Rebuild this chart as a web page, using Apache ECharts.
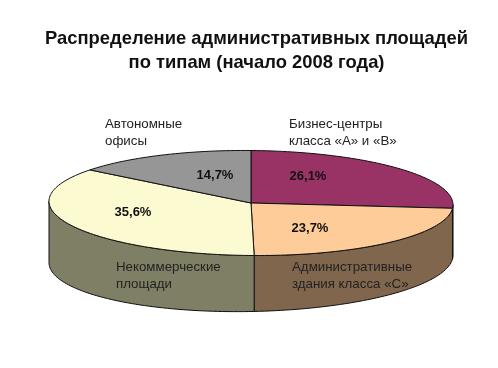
<!DOCTYPE html>
<html><head><meta charset="utf-8">
<style>html,body{margin:0;padding:0;background:#fff}#c{width:498px;height:368px}</style>
<script src="https://cdn.jsdelivr.net/npm/echarts@6/dist/echarts.min.js"></script>
</head><body><div id="c"></div>
<script>
const titleText = 'Распределение административных площадей\nпо типам (начало 2008 года)';
const categories = ['Бизнес-центры\nкласса «А» и «В»', 'Административные\nздания класса «С»', 'Некоммерческие\nплощади', 'Автономные\nофисы'];
const values = [26.1, 23.7, 35.6, 14.7];
const topColors = ['#993366', '#FDCC99', '#FCFAD0', '#969696'];
const sideColors = ['#80664D', '#80664D', '#7F7F66', '#7F7F66'];
// layout of the tilted disc and of the text
const disc = {cx: 251, cy: 203, rx: 202, ry: 52.5, depth: 56, tilt: 0.0087, depthSkew: 0.027};
const pctPos = [[308, 176], [310, 228], [133, 212], [215, 175]];
const namePos = [[289, 133], [292, 276], [116, 276], [105, 133]];

const total = values.reduce((a, b) => a + b, 0);
const starts = []; let acc = 0;
values.forEach(v => { starts.push(acc); acc += v; });
const rim = (deg, lower) => {
  const r = deg * Math.PI / 180;
  const dx = disc.rx * Math.sin(r);
  const y = disc.cy - disc.ry * Math.cos(r) + disc.tilt * dx;
  return [disc.cx + dx, lower ? y + disc.depth - disc.depthSkew * dx : y];
};
const arc = (a0, a1, lower) => {
  const pts = [], n = Math.max(2, Math.ceil((a1 - a0) / 1.5));
  for (let i = 0; i <= n; i++) pts.push(rim(a0 + (a1 - a0) * i / n, lower));
  return pts;
};
const line = {stroke: '#111', lineWidth: 1, lineJoin: 'round'};
function renderItem(params, api) {
  const i = params.dataIndex;
  const a0 = api.value(0) / total * 360, a1 = a0 + api.value(1) / total * 360;
  const children = [];
  const s0 = Math.max(a0, 90), s1 = Math.min(a1, 270);
  if (s1 > s0) {
    const pts = arc(s0, s1, false).concat(arc(s0, s1, true).reverse());
    children.push({type: 'polygon', shape: {points: pts}, style: Object.assign({fill: sideColors[i]}, line)});
  }
  children.push({type: 'polygon', shape: {points: [[disc.cx, disc.cy]].concat(arc(a0, a1, false))},
    style: Object.assign({fill: topColors[i]}, line)});
  children.push({type: 'text', z2: 10, x: pctPos[i][0], y: pctPos[i][1], style: {
    text: values[i].toFixed(1).replace('.', ',') + '%', font: 'bold 13px "Liberation Sans", Arial, sans-serif', fill: '#111', align: 'center', verticalAlign: 'middle'}});
  children.push({type: 'text', z2: 10, x: namePos[i][0], y: namePos[i][1], style: {
    text: categories[i], font: '13.3px "Liberation Sans", Arial, sans-serif', lineHeight: 16.5, fill: '#222', align: 'left', verticalAlign: 'middle'}});
  return {type: 'group', children};
}
const chart = echarts.init(document.getElementById('c'), null, {renderer: 'canvas'});
chart.setOption({
  animation: false,
  backgroundColor: '#fff',
  title: {text: titleText, left: 251.5, top: 22, textAlign: 'center',
    textStyle: {fontFamily: '"Liberation Sans", Arial, sans-serif', fontWeight: 'bold', fontSize: 18.4, lineHeight: 24, color: '#111'}},
  series: [{type: 'custom', coordinateSystem: 'none', renderItem, silent: true,
    data: values.map((v, i) => [starts[i], v])}]
});
</script></body></html>
